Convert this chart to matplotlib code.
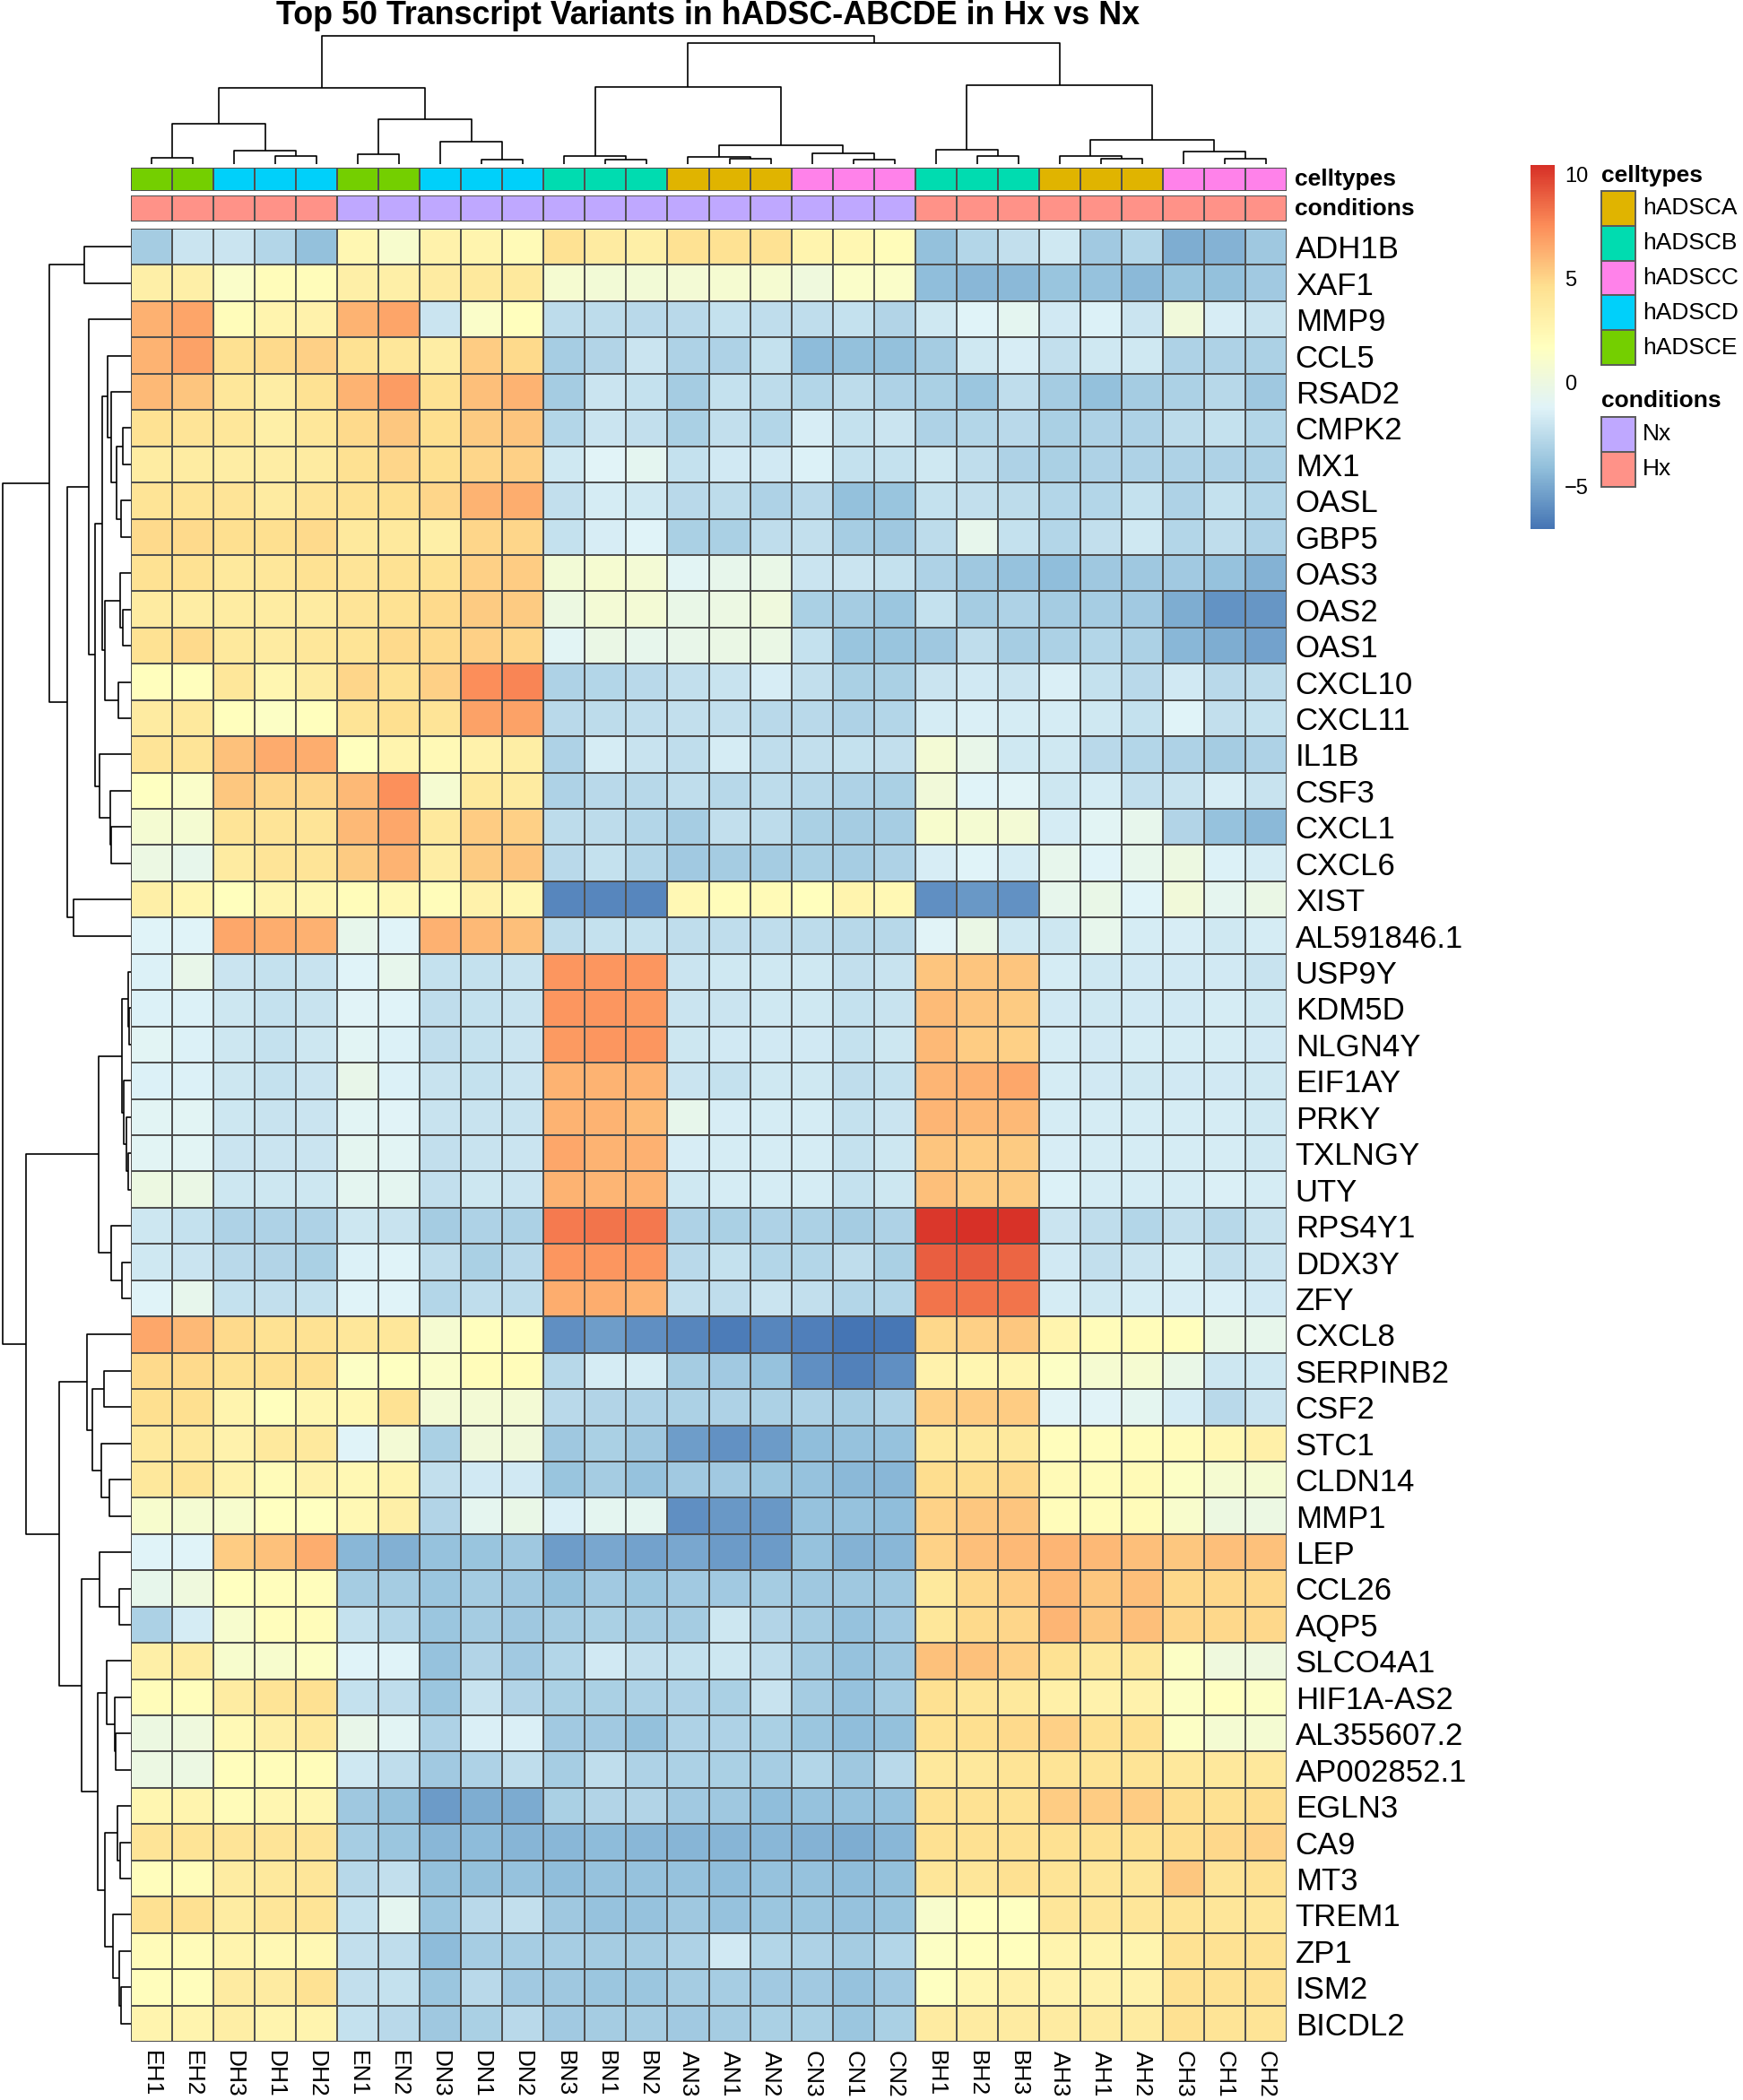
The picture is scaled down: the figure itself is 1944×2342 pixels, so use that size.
import numpy as np
import matplotlib
matplotlib.use("Agg")
import matplotlib.pyplot as plt
from matplotlib.colors import LinearSegmentedColormap, ListedColormap, Normalize
from matplotlib.patches import Rectangle
from matplotlib.cm import ScalarMappable

plt.rcParams['font.family'] = ['Liberation Sans', 'DejaVu Sans']

# ---------------- data ----------------
title = "Top 50 Transcript Variants in hADSC-ABCDE in Hx vs Nx"

samples = ["EH1", "EH2", "DH3", "DH1", "DH2", "EN1", "EN2", "DN3", "DN1", "DN2",
           "BN3", "BN1", "BN2", "AN3", "AN1", "AN2", "CN3", "CN1", "CN2",
           "BH1", "BH2", "BH3", "AH3", "AH1", "AH2", "CH3", "CH1", "CH2"]

sample_celltypes = ["hADSCE", "hADSCE", "hADSCD", "hADSCD", "hADSCD", "hADSCE", "hADSCE",
                    "hADSCD", "hADSCD", "hADSCD", "hADSCB", "hADSCB", "hADSCB",
                    "hADSCA", "hADSCA", "hADSCA", "hADSCC", "hADSCC", "hADSCC",
                    "hADSCB", "hADSCB", "hADSCB", "hADSCA", "hADSCA", "hADSCA",
                    "hADSCC", "hADSCC", "hADSCC"]

sample_conditions = ["Hx"] * 5 + ["Nx"] * 14 + ["Hx"] * 9

celltype_levels = ["hADSCA", "hADSCB", "hADSCC", "hADSCD", "hADSCE"]
celltype_colors = ["#E0B400", "#00DCB0", "#FF82EA", "#00D0FA", "#74CF00"]
condition_levels = ["Nx", "Hx"]
condition_colors = ["#BFA8FF", "#FF9288"]

genes = ["ADH1B", "XAF1", "MMP9", "CCL5", "RSAD2", "CMPK2", "MX1", "OASL", "GBP5", "OAS3",
         "OAS2", "OAS1", "CXCL10", "CXCL11", "IL1B", "CSF3", "CXCL1", "CXCL6", "XIST",
         "AL591846.1", "USP9Y", "KDM5D", "NLGN4Y", "EIF1AY", "PRKY", "TXLNGY", "UTY",
         "RPS4Y1", "DDX3Y", "ZFY", "CXCL8", "SERPINB2", "CSF2", "STC1", "CLDN14", "MMP1",
         "LEP", "CCL26", "AQP5", "SLCO4A1", "HIF1A-AS2", "AL355607.2", "AP002852.1",
         "EGLN3", "CA9", "MT3", "TREM1", "ZP1", "ISM2", "BICDL2"]

# z-scores, rows = genes, columns = samples (display order)
z_scores = [
    [-3.4, -2.0, -2.0, -2.8, -4.0, 2.5, 1.0, 3.0, 2.8, 2.2, 4.4, 3.6, 3.2, 4.4, 4.4, 4.4, 2.8, 2.5, 2.0, -4.0, -2.8, -2.3, -1.8, -3.5, -2.8, -4.8, -4.6, -3.6],
    [3.2, 3.2, 1.2, 2.0, 2.0, 3.2, 3.2, 3.6, 3.8, 3.8, 0.8, 0.5, 0.5, 0.6, 0.8, 0.8, 0.2, 1.2, 1.2, -4.1, -4.4, -4.3, -3.8, -3.9, -4.3, -3.8, -4.0, -3.5],
    [6.3, 6.7, 2.0, 2.8, 3.0, 6.2, 6.7, -2.0, 1.2, 1.8, -2.5, -2.5, -2.6, -2.6, -2.2, -2.4, -2.4, -2.2, -2.9, -1.8, -1.2, -0.8, -1.7, -1.3, -2.0, 0.3, -1.5, -2.1],
    [6.2, 6.8, 4.5, 4.8, 5.2, 4.4, 4.0, 3.4, 5.3, 4.8, -3.3, -2.9, -2.0, -3.0, -3.0, -2.2, -4.2, -4.0, -4.0, -3.4, -1.8, -1.5, -2.3, -1.8, -1.8, -3.0, -3.0, -3.1],
    [6.0, 5.6, 4.0, 3.4, 4.4, 6.2, 7.0, 4.4, 5.8, 6.2, -3.4, -2.0, -2.2, -3.4, -2.2, -2.5, -2.8, -2.5, -3.0, -3.2, -3.7, -2.4, -3.4, -4.0, -3.4, -3.1, -2.7, -3.6],
    [4.4, 4.2, 4.0, 3.2, 4.0, 4.8, 5.5, 4.6, 5.4, 5.6, -2.8, -2.0, -2.3, -3.2, -2.3, -2.8, -1.5, -2.2, -2.0, -3.0, -2.8, -2.6, -3.2, -3.0, -3.0, -2.5, -2.2, -2.8],
    [3.5, 3.5, 3.4, 3.4, 3.6, 4.5, 5.0, 4.6, 5.0, 5.2, -1.8, -1.1, -0.8, -2.2, -1.7, -1.7, -1.3, -2.2, -2.2, -1.8, -2.4, -3.0, -3.2, -3.0, -3.0, -3.0, -3.0, -3.1],
    [4.3, 4.3, 4.2, 3.6, 4.2, 4.4, 4.6, 5.0, 6.2, 6.4, -2.3, -1.6, -1.8, -2.6, -2.5, -3.0, -2.6, -4.0, -3.8, -2.2, -2.3, -2.5, -2.8, -2.8, -2.2, -3.0, -2.2, -2.8],
    [4.8, 4.8, 4.6, 4.6, 4.8, 3.8, 3.8, 3.2, 5.0, 5.0, -2.2, -1.5, -1.2, -3.2, -3.2, -2.4, -2.3, -3.3, -3.6, -2.5, -0.6, -2.2, -2.8, -2.3, -1.8, -2.8, -2.4, -3.0],
    [4.4, 4.4, 3.8, 4.0, 4.4, 4.2, 4.4, 4.4, 5.2, 5.3, 0.5, 0.8, 0.6, -1.0, -0.5, -0.3, -2.0, -2.0, -2.2, -3.0, -3.6, -3.9, -4.1, -3.6, -3.6, -3.5, -3.9, -4.6],
    [3.6, 3.4, 3.5, 3.5, 3.6, 4.2, 4.4, 4.8, 5.4, 5.4, 0.0, 0.6, 0.6, -0.3, -0.1, 0.2, -3.2, -3.4, -3.7, -2.2, -3.4, -3.0, -3.4, -3.3, -3.5, -4.8, -5.8, -5.7],
    [4.4, 4.8, 3.8, 3.6, 4.0, 4.3, 4.8, 4.8, 5.2, 5.0, -1.0, -0.2, -0.6, -0.4, -0.2, -0.2, -2.2, -3.8, -3.8, -3.6, -2.4, -3.3, -3.1, -2.8, -3.1, -4.4, -4.8, -5.2],
    [1.8, 1.8, 4.0, 2.6, 3.5, 5.0, 4.4, 5.2, 7.5, 7.8, -3.0, -2.8, -2.6, -2.3, -2.1, -1.5, -2.3, -3.2, -3.2, -2.0, -1.7, -2.0, -1.4, -2.2, -2.6, -1.7, -2.6, -2.5],
    [3.6, 3.8, 1.8, 1.4, 1.8, 4.3, 4.6, 4.2, 6.8, 6.8, -2.6, -2.5, -2.4, -2.3, -2.3, -2.6, -2.6, -3.0, -2.8, -1.6, -1.4, -1.6, -1.6, -1.8, -2.2, -1.2, -2.3, -2.2],
    [4.2, 4.2, 5.7, 6.5, 6.4, 1.8, 2.8, 2.3, 3.0, 3.3, -3.0, -1.6, -2.1, -2.4, -1.6, -2.4, -2.3, -2.2, -2.3, 0.6, -0.4, -1.8, -1.8, -2.6, -2.8, -3.0, -3.4, -3.0],
    [1.6, 1.2, 5.5, 5.0, 5.0, 6.0, 7.4, 0.8, 3.8, 3.6, -3.0, -2.6, -2.7, -2.4, -2.7, -2.5, -2.7, -3.0, -3.2, 0.4, -1.2, -1.1, -1.9, -1.6, -2.3, -2.1, -1.5, -2.1],
    [0.7, 0.7, 4.2, 4.2, 4.2, 6.0, 6.6, 3.8, 5.3, 5.2, -2.5, -2.5, -2.8, -3.3, -2.3, -2.5, -3.2, -3.4, -3.3, 1.0, 0.7, 0.6, -1.6, -1.0, -0.6, -2.9, -3.9, -4.3],
    [-0.1, -0.5, 3.6, 4.2, 4.2, 5.4, 6.2, 3.4, 5.4, 5.6, -2.6, -2.2, -2.8, -3.5, -3.4, -3.4, -3.2, -3.3, -3.0, -1.5, -1.2, -1.6, -0.6, -1.2, -0.6, 0.0, -1.3, -1.6],
    [3.2, 2.6, 1.8, 2.8, 2.6, 2.0, 2.4, 2.0, 3.0, 2.6, -6.3, -6.3, -6.3, 2.4, 2.0, 2.2, 1.8, 2.8, 2.4, -6.0, -5.6, -5.9, -0.6, -0.3, -1.2, 0.4, -0.7, -0.2],
    [-1.2, -1.2, 6.6, 6.4, 6.3, -0.5, -1.2, 6.3, 6.0, 5.8, -2.5, -2.2, -2.2, -2.4, -2.4, -2.4, -2.5, -2.7, -2.7, -1.1, -0.2, -1.8, -1.9, -0.6, -1.6, -1.5, -1.8, -1.6],
    [-1.3, -0.4, -2.0, -2.2, -2.1, -1.2, -0.6, -2.2, -2.2, -2.1, 7.2, 7.2, 7.2, -2.0, -1.8, -1.8, -1.8, -2.3, -2.1, 5.6, 5.6, 5.6, -1.6, -1.8, -1.7, -1.7, -1.7, -2.1],
    [-1.3, -1.3, -1.9, -2.2, -2.1, -1.1, -1.2, -2.4, -2.2, -2.1, 7.2, 7.2, 7.1, -2.0, -2.0, -1.8, -1.8, -2.2, -2.1, 5.9, 5.6, 5.4, -1.7, -1.8, -1.7, -1.7, -1.6, -1.8],
    [-1.0, -1.3, -1.9, -2.2, -1.9, -1.0, -1.3, -2.4, -2.2, -2.0, 7.1, 7.2, 7.2, -1.9, -1.7, -1.7, -1.7, -2.2, -1.9, 6.0, 5.3, 5.2, -1.6, -1.7, -1.6, -1.6, -1.6, -1.7],
    [-1.3, -1.3, -1.9, -2.2, -2.0, -0.4, -1.3, -2.1, -2.2, -2.0, 6.2, 6.2, 6.2, -2.0, -2.2, -1.8, -1.8, -2.4, -2.2, 6.1, 6.3, 6.6, -1.6, -1.7, -1.8, -1.7, -1.7, -1.8],
    [-1.0, -1.0, -1.9, -2.1, -2.0, -1.0, -1.1, -2.1, -2.1, -2.1, 6.2, 6.2, 5.9, -0.5, -1.5, -1.6, -1.6, -2.2, -2.0, 6.1, 6.0, 6.0, -1.6, -1.6, -1.6, -1.6, -1.6, -1.8],
    [-1.0, -1.0, -2.0, -2.0, -2.0, -0.8, -1.0, -2.3, -2.1, -2.0, 6.6, 6.2, 6.3, -1.5, -1.6, -1.6, -1.6, -2.2, -1.9, 5.6, 5.3, 5.4, -1.5, -1.6, -1.6, -1.6, -1.6, -1.8],
    [0.0, -0.2, -1.9, -1.9, -1.9, -0.8, -0.8, -2.3, -1.9, -2.0, 6.2, 6.1, 6.2, -1.8, -1.6, -1.6, -1.6, -2.2, -1.9, 5.8, 5.4, 5.4, -1.3, -1.6, -1.6, -1.6, -1.4, -1.6],
    [-1.9, -2.2, -3.0, -3.0, -3.0, -1.9, -2.1, -3.4, -3.0, -3.1, 8.1, 8.3, 8.2, -3.0, -3.2, -3.0, -3.1, -3.4, -3.0, 10.2, 10.47, 10.35, -2.0, -2.4, -2.8, -2.3, -2.7, -2.1],
    [-1.8, -2.0, -2.6, -2.9, -3.2, -1.3, -1.2, -2.4, -3.2, -2.6, 7.2, 7.2, 7.2, -2.6, -2.2, -2.8, -2.8, -2.4, -3.2, 9.0, 9.1, 8.8, -1.7, -2.3, -2.0, -1.6, -2.3, -2.0],
    [-1.2, -0.6, -2.2, -2.3, -2.2, -1.2, -1.2, -2.8, -2.4, -2.5, 6.4, 6.4, 6.2, -2.3, -2.4, -2.0, -2.3, -2.8, -2.8, 8.3, 8.3, 8.3, -1.6, -1.8, -1.6, -1.5, -1.4, -1.7],
    [6.6, 6.0, 4.8, 4.4, 4.4, 4.0, 4.0, 0.8, 1.8, 1.8, -6.0, -5.4, -6.0, -6.3, -6.7, -6.3, -6.6, -7.03, -6.9, 4.9, 5.2, 5.5, 2.8, 2.0, 2.0, 1.8, -0.3, -0.5],
    [4.8, 4.8, 4.4, 4.6, 4.6, 1.4, 1.6, 1.2, 2.0, 2.0, -2.7, -1.6, -1.6, -3.4, -3.5, -3.9, -6.0, -6.5, -6.0, 2.9, 2.6, 2.7, 1.4, 0.8, 0.8, -0.3, -1.9, -1.8],
    [4.6, 4.6, 2.8, 1.8, 2.6, 2.4, 4.4, 0.6, 0.6, 0.6, -2.6, -2.9, -3.0, -3.1, -3.0, -3.1, -3.0, -3.3, -3.0, 5.2, 5.3, 5.3, -1.1, -1.1, -0.8, -1.6, -2.6, -2.0],
    [3.8, 3.8, 2.9, 3.8, 3.8, -1.2, 0.6, -3.2, 0.3, 0.3, -3.6, -3.2, -3.6, -5.4, -5.9, -5.5, -4.1, -3.9, -3.9, 3.8, 3.8, 3.8, 1.9, 1.9, 2.0, 2.1, 2.5, 3.1],
    [3.9, 4.3, 3.0, 2.1, 3.0, 2.4, 2.8, -2.3, -1.7, -1.7, -3.8, -3.4, -3.9, -3.5, -3.5, -3.7, -3.9, -4.3, -4.4, 4.7, 4.7, 4.9, 2.2, 2.0, 2.2, 1.4, 0.8, 0.7],
    [1.0, 0.7, 1.0, 1.7, 1.7, 2.4, 3.2, -2.9, -0.7, -0.3, -1.4, -0.8, -0.8, -6.0, -5.6, -5.6, -3.9, -3.9, -4.1, 5.1, 5.5, 5.6, 2.0, 2.0, 2.1, 1.1, 0.0, -0.1],
    [-1.2, -1.2, 5.3, 5.7, 6.4, -4.4, -4.7, -3.9, -3.8, -3.6, -5.4, -5.0, -5.2, -5.0, -5.5, -5.5, -3.9, -4.6, -4.4, 5.1, 5.8, 6.0, 6.1, 6.0, 5.8, 5.5, 5.8, 5.7],
    [-0.5, 0.2, 1.7, 1.9, 1.9, -3.4, -3.4, -3.7, -3.4, -3.6, -4.0, -3.5, -3.7, -3.5, -3.5, -3.4, -3.6, -3.6, -3.6, 3.8, 4.9, 5.3, 6.0, 5.5, 5.8, 4.9, 4.9, 4.9],
    [-3.1, -1.6, 0.9, 1.9, 2.0, -2.2, -2.8, -3.7, -3.4, -3.6, -3.4, -3.2, -3.4, -3.4, -1.9, -2.9, -3.4, -3.9, -3.5, 4.0, 4.8, 5.0, 6.1, 5.5, 5.8, 5.0, 4.9, 4.9],
    [3.2, 3.5, 1.0, 1.0, 1.4, -1.2, -1.2, -3.9, -2.9, -3.5, -2.8, -1.7, -2.3, -2.2, -1.9, -2.4, -3.4, -3.9, -3.6, 5.7, 5.7, 5.2, 4.4, 3.9, 3.9, 1.4, 0.2, 0.1],
    [2.0, 1.9, 3.5, 4.3, 4.5, -2.2, -2.4, -3.7, -2.1, -2.9, -3.2, -3.2, -3.1, -3.0, -3.2, -2.1, -3.4, -3.9, -3.4, 4.5, 4.1, 3.8, 3.1, 2.9, 2.9, 1.4, 1.7, 1.4],
    [0.0, 0.2, 2.3, 3.2, 3.8, -0.4, -1.0, -3.0, -1.4, -1.4, -3.5, -3.5, -4.0, -3.0, -3.0, -3.2, -3.7, -4.1, -4.0, 4.4, 4.6, 4.8, 5.2, 4.5, 4.5, 1.4, 0.7, 0.7],
    [-0.1, -0.1, 1.9, 2.0, 2.0, -1.8, -2.4, -3.5, -3.0, -2.4, -3.3, -2.4, -3.0, -3.1, -3.2, -3.3, -2.8, -3.6, -2.6, 3.9, 3.9, 4.3, 4.3, 4.3, 4.3, 3.9, 3.9, 3.9],
    [2.6, 2.8, 2.1, 2.6, 2.6, -3.6, -4.0, -5.5, -4.8, -4.9, -3.2, -2.9, -2.9, -3.5, -3.6, -4.1, -3.9, -3.9, -3.9, 4.4, 4.4, 4.4, 5.3, 5.3, 5.3, 4.7, 4.5, 4.7],
    [4.2, 4.3, 4.2, 4.2, 4.2, -3.3, -3.7, -4.4, -4.2, -4.5, -4.4, -4.2, -4.4, -4.5, -4.5, -4.4, -4.6, -4.8, -4.4, 4.5, 4.5, 4.5, 4.5, 4.5, 4.5, 4.7, 4.9, 5.1],
    [1.9, 2.0, 3.5, 3.8, 4.1, -2.7, -2.3, -4.0, -4.0, -3.9, -4.1, -3.9, -3.9, -3.9, -4.1, -3.9, -3.9, -4.1, -4.0, 4.1, 4.1, 4.5, 4.3, 4.1, 4.1, 5.5, 4.2, 4.5],
    [4.5, 4.5, 3.5, 4.1, 4.3, -2.2, -0.8, -3.7, -2.6, -2.3, -3.6, -3.9, -3.9, -3.6, -3.9, -3.7, -3.7, -3.9, -3.8, 1.1, 1.7, 1.6, 4.1, 4.1, 4.1, 4.3, 4.1, 4.1],
    [2.1, 2.1, 2.8, 2.4, 2.4, -2.3, -2.4, -4.2, -3.3, -3.3, -3.3, -3.4, -3.4, -3.0, -1.7, -2.8, -3.0, -3.4, -2.8, 1.5, 1.8, 1.8, 2.8, 2.8, 2.8, 4.4, 4.4, 4.4],
    [1.9, 1.9, 3.6, 3.6, 4.4, -2.3, -2.2, -3.7, -2.6, -3.5, -3.6, -3.7, -3.7, -3.4, -3.3, -3.5, -3.5, -3.9, -3.5, 1.6, 2.6, 3.1, 2.9, 2.9, 2.9, 4.5, 4.4, 4.5],
    [2.8, 2.8, 3.3, 2.8, 2.8, -2.2, -2.6, -3.6, -3.2, -2.6, -3.5, -3.4, -3.4, -3.5, -3.4, -3.2, -3.2, -3.7, -3.2, 3.6, 3.6, 3.6, 3.6, 3.6, 3.6, 4.5, 4.3, 4.3],
]

# hierarchical clustering merges (child a, child b, merge height); ids >= n are earlier merges
col_merges = [
    (0, 1, 22), (3, 4, 27), (2, 29, 45), (28, 30, 134),
    (5, 6, 33), (8, 9, 15), (7, 33, 74), (32, 34, 151), (31, 35, 255),
    (11, 12, 15), (10, 37, 26), (14, 15, 19), (13, 39, 23), (17, 18, 15),
    (16, 41, 36), (40, 42, 63), (38, 43, 257),
    (20, 21, 26), (19, 45, 47), (23, 24, 18), (22, 47, 27), (26, 27, 19),
    (25, 49, 43), (48, 50, 81), (46, 51, 264), (44, 52, 406), (36, 53, 429),
]

row_merges = [
    (0, 1, 155), (5, 6, 28), (7, 8, 33), (51, 52, 48), (4, 53, 65), (3, 54, 78),
    (10, 11, 28), (9, 56, 35), (12, 13, 43), (57, 58, 88), (55, 59, 95),
    (16, 17, 66), (15, 61, 68), (14, 62, 105), (60, 63, 120), (2, 64, 140),
    (18, 19, 193), (65, 66, 213), (50, 67, 275),
    (21, 22, 6), (20, 69, 10), (25, 26, 10), (24, 71, 16), (23, 72, 25), (70, 73, 31),
    (28, 29, 30), (27, 75, 65), (74, 76, 108),
    (31, 32, 91), (34, 35, 71), (33, 79, 98), (78, 80, 128), (30, 81, 146),
    (37, 38, 38), (36, 83, 105), (41, 42, 50), (40, 85, 53), (39, 86, 80),
    (44, 45, 36), (43, 88, 46), (48, 49, 33), (47, 90, 38), (46, 91, 60),
    (89, 92, 86), (87, 93, 111), (84, 94, 165), (82, 95, 241), (77, 96, 351),
    (68, 97, 430),
]

palette = ["#4575B4", "#91BFDB", "#E0F3F8", "#FFFFBF", "#FEE090", "#FC8D59", "#D73027"]
colorbar_ticks = [-5, 0, 5, 10]

# ---------------- layout helpers ----------------
W, H = 1944, 2342
fig = plt.figure(figsize=(W / 100, H / 100), dpi=100)


def rect(x0, y0, x1, y1):
    return [x0 / W, 1 - y1 / H, (x1 - x0) / W, (y1 - y0) / H]


def dendro_segments(n, merges):
    pos = {i: i + 0.5 for i in range(n)}
    hgt = {i: 0.0 for i in range(n)}
    segs = []
    for k, (a, b, h) in enumerate(merges):
        segs.append(([pos[a], pos[a], pos[b], pos[b]], [hgt[a], h, h, hgt[b]]))
        pos[n + k] = (pos[a] + pos[b]) / 2
        hgt[n + k] = h
    return segs


data = np.array(z_scores)
n_rows, n_cols = data.shape
cmap = LinearSegmentedColormap.from_list("rdylbu_r", palette, N=256)
norm = Normalize(vmin=data.min(), vmax=data.max())
edge = "#4f4f4f"
row_label_fs = 25
col_label_fs = 19
legend_fs = 19

# ---------------- heatmap ----------------
ax = fig.add_axes(rect(146, 255, 1435, 2277))
ax.pcolormesh(data, cmap=cmap, norm=norm, edgecolors=edge, linewidth=1.3)
ax.set_xlim(0, n_cols)
ax.set_ylim(n_rows, 0)
for s in ax.spines.values():
    s.set_visible(False)
ax.set_xticks(np.arange(n_cols) + 0.5)
ax.set_xticklabels(samples, rotation=270, ha="center", va="top", fontsize=col_label_fs)
ax.set_yticks(np.arange(n_rows) + 0.5)
ax.set_yticklabels(genes, fontsize=row_label_fs)
ax.yaxis.tick_right()
ax.tick_params(axis="both", length=0, pad=7)

# ---------------- column dendrogram ----------------
axd = fig.add_axes(rect(146, 40, 1435, 183))
for xs, ys in dendro_segments(n_cols, col_merges):
    axd.plot(xs, ys, color="black", lw=1.2, clip_on=False, solid_capstyle="butt")
axd.set_xlim(0, n_cols)
axd.set_ylim(0, max(m[2] for m in col_merges))
axd.axis("off")

# ---------------- row dendrogram ----------------
axr = fig.add_axes(rect(3, 255, 146, 2277))
for xs, ys in dendro_segments(n_rows, row_merges):
    axr.plot(ys, xs, color="black", lw=1.2, clip_on=False, solid_capstyle="butt")
axr.set_ylim(n_rows, 0)
axr.set_xlim(max(m[2] for m in row_merges), 0)
axr.axis("off")

# ---------------- annotation bars ----------------
ct_idx = np.array([[celltype_levels.index(c) for c in sample_celltypes]])
cd_idx = np.array([[condition_levels.index(c) for c in sample_conditions]])
for (y0, y1), idx, cols, name in [((187, 213), ct_idx, celltype_colors, "celltypes"),
                                  ((218, 247), cd_idx, condition_colors, "conditions")]:
    axa = fig.add_axes(rect(146, y0, 1435, y1))
    axa.pcolormesh(idx, cmap=ListedColormap(cols), vmin=-0.5, vmax=len(cols) - 0.5,
                   edgecolors=edge, linewidth=1.3)
    axa.set_xlim(0, n_cols)
    axa.set_ylim(1, 0)
    axa.axis("off")
    fig.text(1444 / W, 1 - (y0 + y1) / 2 / H, name, fontsize=legend_fs,
             fontweight="bold", ha="left", va="center")

# ---------------- title ----------------
fig.text(790 / W, 1 - 27 / H, title, fontsize=25.8, fontweight="bold",
         ha="center", va="baseline")

# ---------------- colour bar ----------------
cax = fig.add_axes(rect(1707, 184, 1734, 590))
cb = fig.colorbar(ScalarMappable(norm=norm, cmap=cmap), cax=cax)
cb.outline.set_visible(False)
cb.set_ticks(colorbar_ticks)
cb.ax.tick_params(length=0, labelsize=17, pad=8)

# ---------------- legends ----------------
axl = fig.add_axes(rect(1760, 150, 1944, 620))
axl.set_xlim(1760, 1944)
axl.set_ylim(620, 150)
axl.axis("off")
box_h = 38.8
axl.text(1786, 196, "celltypes", fontsize=legend_fs, fontweight="bold", va="center", ha="left")
for i, (lab, col) in enumerate(zip(celltype_levels, celltype_colors)):
    y = 213 + i * box_h
    axl.add_patch(Rectangle((1786, y), 38, box_h, facecolor=col, edgecolor="#5a5a5a", lw=1.4))
    axl.text(1832, y + box_h / 2, lab, fontsize=legend_fs, va="center", ha="left")
axl.text(1786, 447, "conditions", fontsize=legend_fs, fontweight="bold", va="center", ha="left")
for i, (lab, col) in enumerate(zip(condition_levels, condition_colors)):
    y = 465 + i * box_h
    axl.add_patch(Rectangle((1786, y), 38, box_h, facecolor=col, edgecolor="#5a5a5a", lw=1.4))
    axl.text(1832, y + box_h / 2, lab, fontsize=legend_fs, va="center", ha="left")

fig.savefig("out.png", dpi=100, facecolor="white")
